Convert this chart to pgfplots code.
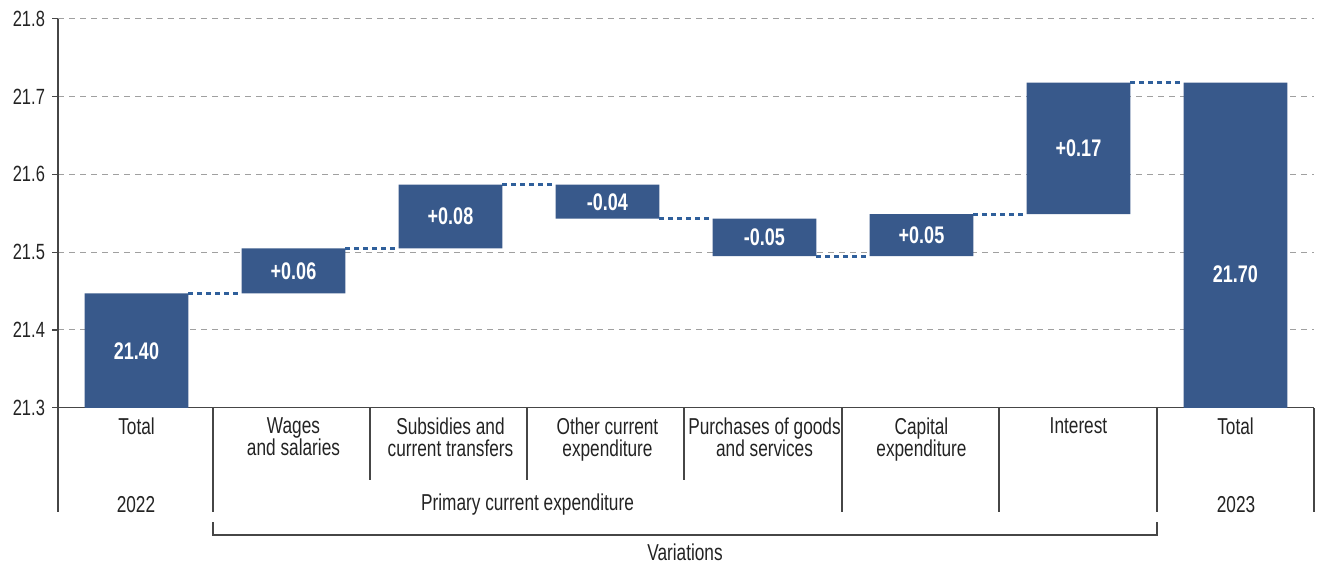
\documentclass[border=0pt]{standalone}
\usepackage{fontspec}
\setmainfont{Liberation Sans}[FakeStretch=0.75]
\usepackage{pgfplots}
\pgfplotsset{compat=1.18}
\definecolor{barblue}{RGB}{56,89,139}
\definecolor{linkblue}{RGB}{47,95,155}
\definecolor{gridgray}{RGB}{160,160,160}
\definecolor{axisgray}{RGB}{70,70,70}
\definecolor{txt}{RGB}{35,35,35}
\pgfplotsset{common/.style={at={(0,0)}, anchor=south west, scale only axis,
  width=628pt, height=194.5pt, xmin=-0.5, xmax=7.5, ymin=21.3, ymax=21.8}}
\begin{document}
\begin{tikzpicture}[font=\fontsize{11.5}{11}\selectfont, text=txt]
\begin{axis}[common, ybar stacked, bar width=0.662,
  axis x line*=bottom, axis y line*=left,
  axis line style={draw=axisgray, line width=0.6pt, -},
  ytick={21.3,21.4,21.5,21.6,21.7,21.8},
  yticklabel style={font=\fontsize{11}{11}\selectfont, text=txt,
    /pgf/number format/.cd, fixed, precision=1, fixed zerofill, assume math mode=true},
  ymajorgrids, grid style={gridgray, dash pattern=on 3pt off 2.5pt, line width=0.5pt},
  tick align=outside, major tick length=3pt,
  ytick style={draw=axisgray, line width=0.6pt},
  xtick={0,1,2,3,4,5,6,7}, xtick style={draw=none},
  xticklabels={{Total},{Wages\\and salaries},{Subsidies and\\current transfers},{Other current\\expenditure},{Purchases of goods\\and services},{Capital\\expenditure},{Interest},{Total}},
  xticklabel style={align=center, anchor=north, text=txt, yshift=1.5pt, font=\fontsize{11.5}{11}\selectfont},
]
% invisible base of each floating bar
\addplot[draw=none, fill=none] coordinates {(0,0) (1,21.447) (2,21.505) (3,21.543) (4,21.495) (5,21.495) (6,21.549) (7,0)};
% visible part
\addplot[draw=none, fill=barblue] coordinates {(0,21.447) (1,0.058) (2,0.082) (3,0.044) (4,0.048) (5,0.054) (6,0.169) (7,21.718)};
\end{axis}
\begin{axis}[common, hide axis]
\addplot[linkblue, line width=1.5pt, dash pattern=on 2.2pt off 2.3pt, unbounded coords=jump]
 coordinates {(0.331,21.447) (0.669,21.447) (0.7,nan)
 (1.331,21.505) (1.669,21.505) (1.7,nan)
 (2.331,21.587) (2.669,21.587) (2.7,nan)
 (3.331,21.543) (3.669,21.543) (3.7,nan)
 (4.331,21.495) (4.669,21.495) (4.7,nan)
 (5.331,21.549) (5.669,21.549) (5.7,nan)
 (6.331,21.718) (6.669,21.718)};
\addplot[only marks, mark=none, nodes near coords, point meta=explicit symbolic,
  nodes near coords style={anchor=center, text=white, font=\bfseries\fontsize{12}{12}\selectfont}]
 table[meta=label, row sep=\\] {
 x y label\\
 0 21.3735 21.40\\
 1 21.476 +0.06\\
 2 21.546 +0.08\\
 3 21.565 -0.04\\
 4 21.519 -0.05\\
 5 21.522 +0.05\\
 6 21.6335 +0.17\\
 7 21.472 21.70\\
 };
\end{axis}
\begin{scope}[x=0.5pt, y=-0.5pt, shift={(-58,-408)}]
\path[use as bounding box] (0,0) rectangle (1319,564);
\begin{scope}[draw=axisgray, line width=0.6pt]
\draw (58,408)--(58,512);
\draw (213,408)--(213,512);
\draw (370,408)--(370,480);
\draw (527,408)--(527,480);
\draw (684,408)--(684,480);
\draw (842,408)--(842,512);
\draw (999,408)--(999,512);
\draw (1157,408)--(1157,512);
\draw (1314,408)--(1314,512);
\draw (213,522)--(213,535)--(1157,535)--(1157,522);
\end{scope}
\node at (136,505) {2022};
\node at (527.5,505) {Primary current expenditure};
\node at (1236,505) {2023};
\node at (685,552) {Variations};
\end{scope}
\end{tikzpicture}
\end{document}
